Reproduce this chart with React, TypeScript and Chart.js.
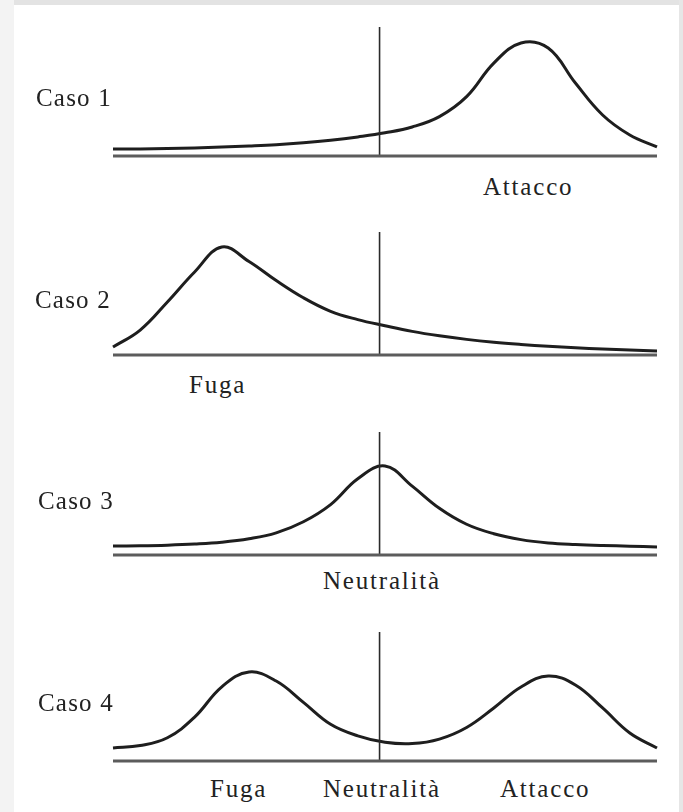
import React, { useEffect, useRef } from "react";
import { Chart, registerables } from "chart.js";

Chart.register(...registerables);

// ---- data (x: 0 = left end of axis, 100 = right end; y: 0 = baseline, 100 = top of neutral line)
const neutralX = 49;
const caseLabels = ["Caso 1", "Caso 2", "Caso 3", "Caso 4"];

const xGrid = [0, 5, 10, 15, 20, 25, 30, 35, 40, 45, 50, 55, 60, 65, 70, 75, 80, 85, 90, 95, 100];

const y1 = [5.4, 5.5, 5.8, 6.2, 6.9, 7.7, 8.7, 10.2, 12.2, 14.8, 18.0, 22.5, 30.5, 46.0, 72.0, 87.6, 83.7, 56.6, 31.8, 16.3, 7.0];
const y2 = [6.5, 20.3, 43.1, 67.5, 87.8, 76.0, 60.5, 46.5, 35.5, 28.8, 23.8, 19.2, 15.6, 12.7, 10.4, 8.6, 7.1, 5.9, 4.9, 4.0, 3.3];
const y3 = [7.3, 7.5, 8.0, 8.9, 10.4, 13.2, 18.0, 27.0, 41.0, 62.0, 72.4, 56.0, 38.0, 25.0, 17.3, 12.5, 9.8, 8.5, 7.7, 7.2, 6.5];
const y4 = [10.1, 12.0, 18.0, 34.0, 57.5, 69.0, 62.0, 45.5, 28.5, 19.5, 14.5, 13.5, 17.0, 26.0, 41.1, 57.4, 65.9, 58.9, 41.1, 21.7, 10.1];

const axisWords1 = ["Attacco"];
const axisWords2 = ["Fuga"];
const axisWords3 = ["Neutralità"];
const axisWords4 = ["Fuga", "Neutralità", "Attacco"];

// ---- layout (pixels)
const panels = [
  { ys: y1, top: 27, base: 156, label: caseLabels[0], labelX: 36, labelY: 85, words: axisWords1, wordX: [483], wordY: 174 },
  { ys: y2, top: 232, base: 355, label: caseLabels[1], labelX: 35, labelY: 287, words: axisWords2, wordX: [189], wordY: 372 },
  { ys: y3, top: 432, base: 555, label: caseLabels[2], labelX: 38, labelY: 488, words: axisWords3, wordX: [323], wordY: 568 },
  { ys: y4, top: 632, base: 761, label: caseLabels[3], labelX: 38, labelY: 690, words: axisWords4, wordX: [210, 323, 500], wordY: 776 },
];

const PAD = 10;
const LEFT = 113;
const RIGHT = 657;
const W = 683;

const FONT = '"Liberation Serif", "DejaVu Serif", serif';

function Panel({ p }: { p: (typeof panels)[number] }) {
  const ref = useRef<HTMLCanvasElement | null>(null);
  const h = p.base - p.top + PAD * 2;
  useEffect(() => {
    if (!ref.current) return;
    const chart = new Chart(ref.current, {
      type: "line",
      data: {
        datasets: [
          {
            data: [{ x: 0, y: 0 }, { x: 100, y: 0 }],
            borderColor: "#5c5c5c",
            borderWidth: 3,
            pointRadius: 0,
            clip: false as any,
          },
          {
            data: [{ x: neutralX, y: 0 }, { x: neutralX, y: 100 }],
            borderColor: "#2a2a2a",
            borderWidth: 1.6,
            pointRadius: 0,
            clip: false as any,
          },
          {
            data: xGrid.map((x, i) => ({ x, y: p.ys[i] })),
            borderColor: "#1e1e1e",
            borderWidth: 3,
            pointRadius: 0,
            tension: 0.4,
            clip: false as any,
          },
        ],
      },
      options: {
        animation: false,
        responsive: false,
        devicePixelRatio: 1,
        layout: { padding: { left: LEFT, right: W - RIGHT, top: PAD, bottom: PAD } },
        plugins: { legend: { display: false }, tooltip: { enabled: false } },
        events: [],
        scales: {
          x: { type: "linear", min: 0, max: 100, display: false },
          y: { type: "linear", min: 0, max: 100, display: false },
        },
      },
    });
    return () => chart.destroy();
  }, []);
  return (
    <canvas
      ref={ref}
      width={W}
      height={h}
      style={{ position: "absolute", left: 0, top: p.top - PAD, width: W, height: h }}
    />
  );
}

const textStyle: React.CSSProperties = {
  position: "absolute",
  fontFamily: FONT,
  fontSize: 25,
  lineHeight: "25px",
  letterSpacing: "1.8px",
  color: "#222222",
  whiteSpace: "nowrap",
};

export default function App() {
  return (
    <div style={{ position: "absolute", left: 0, top: 0, width: W, height: 812, background: "#ffffff", overflow: "hidden" }}>
      <div style={{ position: "absolute", left: 0, top: 0, width: W, height: 5, background: "#e3e3e3" }} />
      <div style={{ position: "absolute", left: 0, top: 0, width: 14, height: 812, background: "#f3f3f3" }} />
      <div style={{ position: "absolute", left: 679, top: 0, width: 4, height: 812, background: "#e6e6e6" }} />
      {panels.map((p, i) => (
        <React.Fragment key={i}>
          <Panel p={p} />
          <div style={{ ...textStyle, left: p.labelX, top: p.labelY, letterSpacing: "1.2px" }}>{p.label}</div>
          {p.words.map((w, j) => (
            <div key={j} style={{ ...textStyle, left: p.wordX[j], top: p.wordY }}>{w}</div>
          ))}
        </React.Fragment>
      ))}
    </div>
  );
}
